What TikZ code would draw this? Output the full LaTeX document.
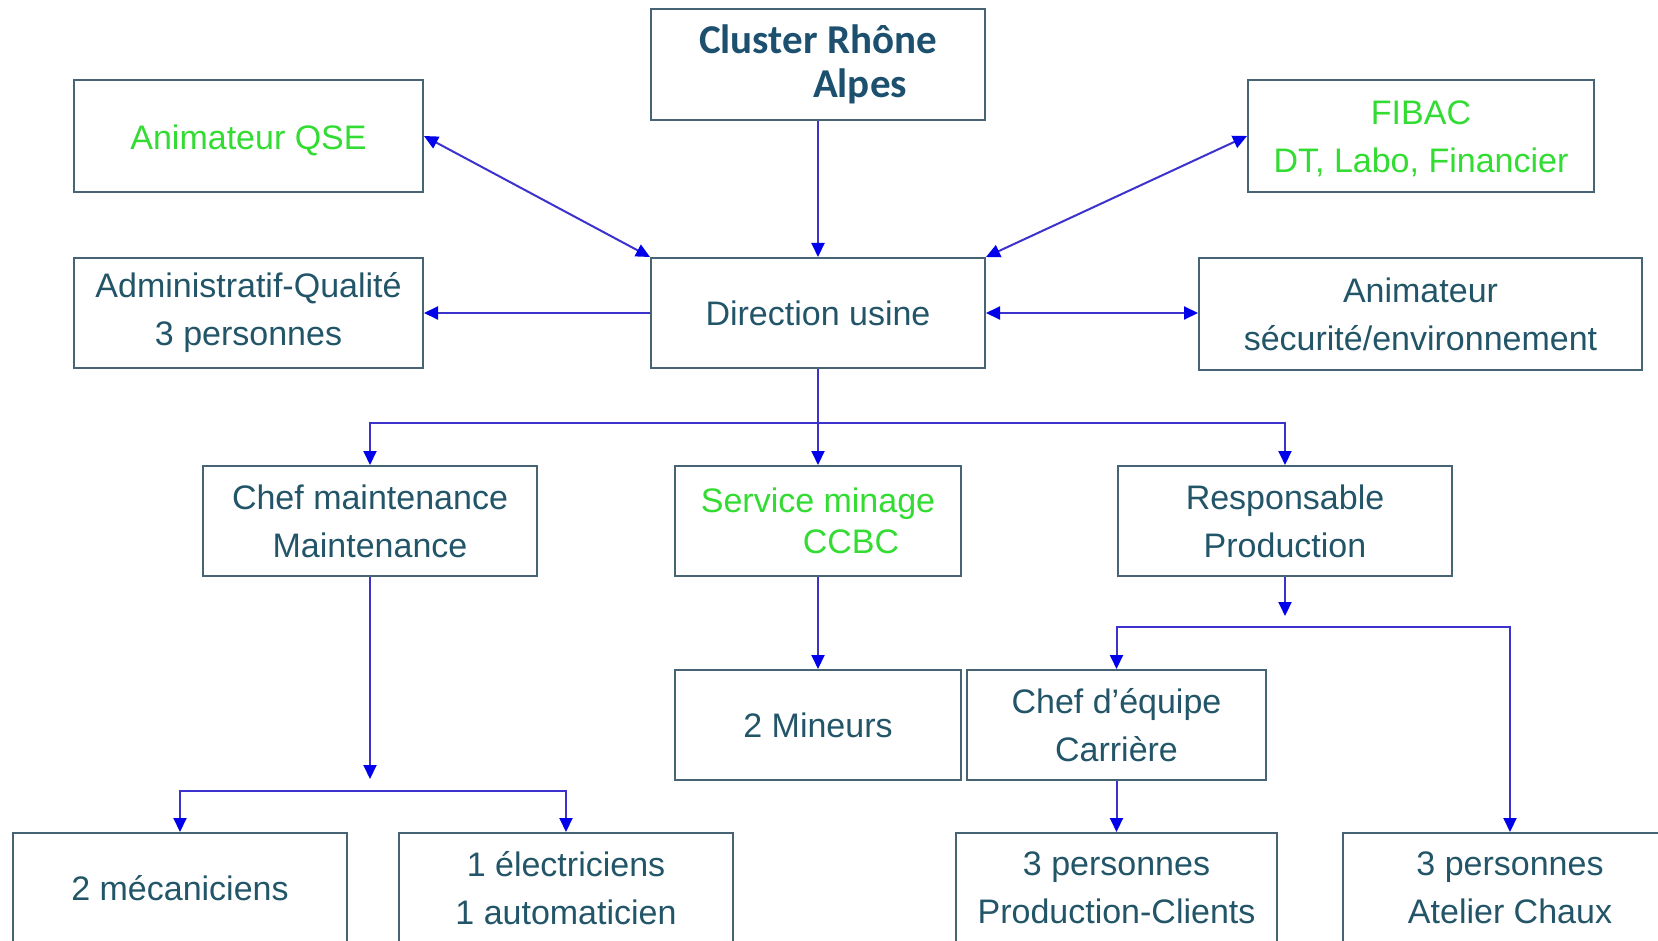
\documentclass[tikz,border=0pt]{standalone}
\usepackage{fontspec}
\setmainfont{Liberation Sans}
\newfontfamily\clusterfont{Carlito}
\usetikzlibrary{arrows.meta}
\definecolor{txtcol}{RGB}{35,85,105}
\definecolor{clcol}{RGB}{28,80,110}
\definecolor{bordcol}{RGB}{70,100,115}
\definecolor{grn}{RGB}{50,220,50}
\definecolor{lncol}{RGB}{60,50,205}
\definecolor{tipcol}{RGB}{0,0,235}
\newcommand{\lowr}[2]{\raisebox{-#1}[\height][\depth]{#2}}
\tikzset{
  box/.style={draw=bordcol, line width=1pt, fill=white, inner sep=0pt, align=center,
    text=txtcol, font=\fontsize{17pt}{24pt}\selectfont},
  gbox/.style={box, text=grn},
  arr/.style={draw=lncol, line width=1pt, -{Triangle[length=7pt,width=6.5pt,color=tipcol]}},
  darr/.style={draw=lncol, line width=1pt, {Triangle[length=7pt,width=6.5pt,color=tipcol]}-{Triangle[length=7pt,width=6.5pt,color=tipcol]}}
}
\begin{document}
\begin{tikzpicture}[x=0.5pt,y=-0.5pt]
\useasboundingbox (0,0) rectangle (1658,941);
\clip (0,0) rectangle (1658,941);
\fill[white] (0,0) rectangle (1658,941);
% nodes
\node[box, minimum width=167pt, minimum height=55.5pt, text=clcol, font=\clusterfont\bfseries\fontsize{20.5pt}{22pt}\selectfont] (cluster) at (818,64.5) {Cluster Rhône\\\hspace*{42pt}Alpes};
\node[gbox, minimum width=174.5pt, minimum height=56pt] (qse) at (248.5,136) {\lowr{2pt}{Animateur QSE}};
\node[gbox, minimum width=173pt, minimum height=56pt] (fibac) at (1421,136) {\lowr{1.5pt}{FIBAC}\\\lowr{1.5pt}{DT, Labo, Financier}};
\node[box, minimum width=167pt, minimum height=55pt] (dir) at (818,313) {Direction usine};
\node[box, minimum width=174.5pt, minimum height=55pt] (admin) at (248.5,313) {Administratif-Qualité\\3 personnes};
\node[box, minimum width=221.5pt, minimum height=56pt] (secu) at (1420.5,314) {Animateur\\sécurité/environnement};
\node[box, minimum width=167pt, minimum height=55pt] (chefm) at (370,521) {Chef maintenance\\Maintenance};
\node[gbox, minimum width=143pt, minimum height=55pt, font=\fontsize{17pt}{20.5pt}\selectfont] (minage) at (818,521) {Service minage\\\hspace*{33pt}CCBC};
\node[box, minimum width=167pt, minimum height=55pt] (resp) at (1285,521) {Responsable\\Production};
\node[box, minimum width=143pt, minimum height=55pt] (mineurs) at (818,725) {2 Mineurs};
\node[box, minimum width=149.5pt, minimum height=55pt] (chefe) at (1116.5,725) {Chef d’équipe\\Carrière};
\node[box, minimum width=167pt, minimum height=55pt] (meca) at (180,888) {2 mécaniciens};
\node[box, minimum width=167pt, minimum height=55pt] (elec) at (566,888) {1 électriciens\\1 automaticien};
\node[box, minimum width=160.5pt, minimum height=55pt] (prodc) at (1116.5,888) {3 personnes\\Production-Clients};
\node[box, minimum width=167pt, minimum height=55pt] (chaux) at (1510,888) {3 personnes\\Atelier Chaux};
% coordinates
\coordinate (b1) at (818,423);
\coordinate (m1) at (370,779);
\coordinate (m2) at (370,791);
\coordinate (r1) at (1285,616);
\coordinate (r2) at (1285,627);
% connectors
\draw[arr] (cluster.south) -- (dir.north);
\draw[darr] (qse.east) -- (dir.north west);
\draw[darr] (fibac.west) -- (dir.north east);
\draw[arr] (dir.west) -- (admin.east);
\draw[darr] (dir.east) -- (dir.east -| secu.west);
\draw[arr] (dir.south) -- (minage.north);
\draw[arr] (b1) -| (chefm.north);
\draw[arr] (b1) -| (resp.north);
\draw[arr] (chefm.south) -- (m1);
\draw[arr] (m2) -| (meca.north);
\draw[arr] (m2) -| (elec.north);
\draw[arr] (minage.south) -- (mineurs.north);
\draw[arr] (resp.south) -- (r1);
\draw[arr] (r2) -| (chefe.north);
\draw[arr] (r2) -| (chaux.north);
\draw[arr] (chefe.south) -- (prodc.north);
\end{tikzpicture}
\end{document}
